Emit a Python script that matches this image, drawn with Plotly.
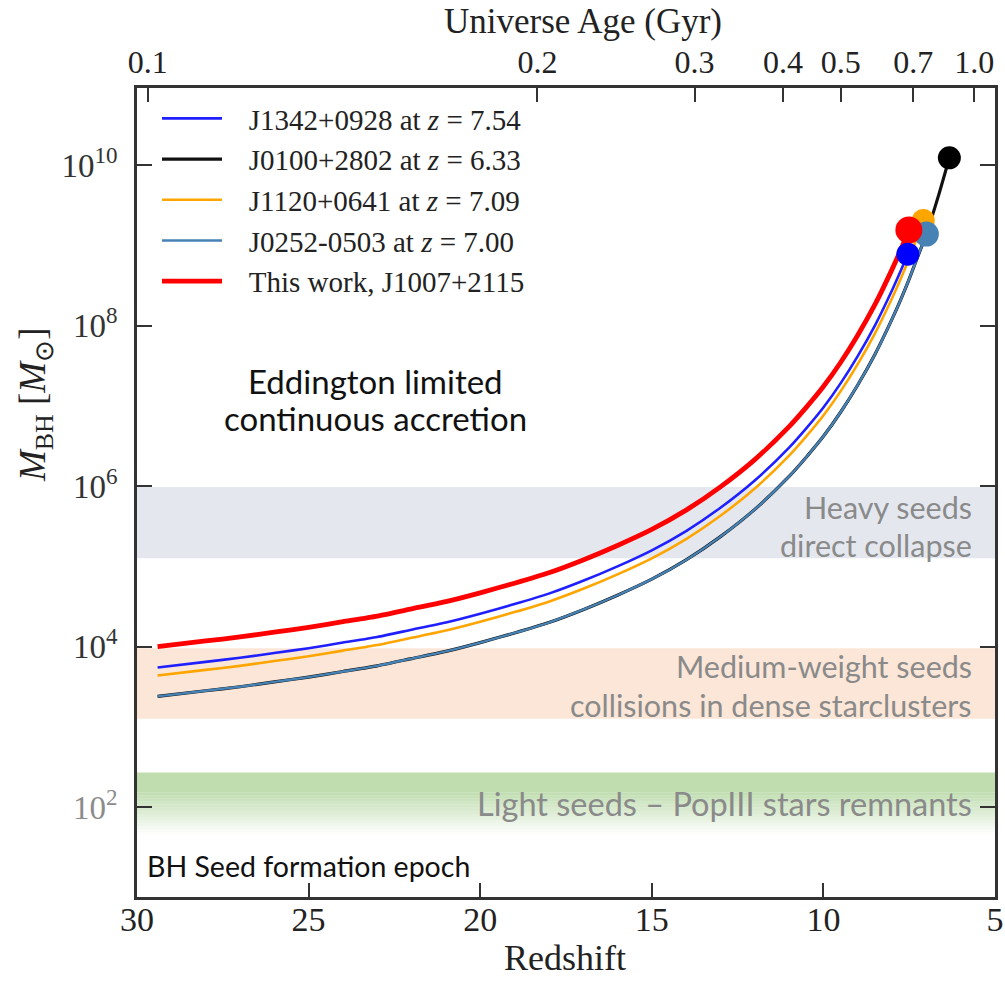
import math
import plotly.graph_objects as go

# ---- growth tracks: redshift vs log10(M_BH / M_sun) ----
z_common = [29.4, 28, 27, 26, 25, 24, 23, 22, 21, 20, 19, 18, 17, 16, 15, 14, 13, 12,
            11, 10.5, 10, 9.5, 9, 8.5, 8, 7.75]

red_z = z_common + [7.51]
red_logm = [4.00, 4.07, 4.12, 4.18, 4.24, 4.31, 4.38, 4.47, 4.56, 4.67, 4.79, 4.92, 5.08,
            5.26, 5.46, 5.70, 5.99, 6.33, 6.74, 6.98, 7.24, 7.54, 7.88, 8.26, 8.70, 8.94,
            9.19]

blue_z = z_common + [7.54]
blue_logm = [3.74, 3.81, 3.86, 3.92, 3.98, 4.05, 4.12, 4.21, 4.30, 4.41, 4.53, 4.66, 4.82,
             5.00, 5.20, 5.44, 5.73, 6.07, 6.48, 6.72, 6.98, 7.28, 7.62, 8.00, 8.44, 8.68,
             8.89]

orange_z = z_common + [7.51, 7.25, 7.09]
orange_logm = [3.64, 3.71, 3.76, 3.82, 3.88, 3.95, 4.02, 4.11, 4.20, 4.31, 4.43, 4.56, 4.72,
               4.90, 5.10, 5.34, 5.63, 5.97, 6.38, 6.62, 6.88, 7.18, 7.52, 7.90, 8.34, 8.58,
               8.83, 9.12, 9.31]

steel_z = z_common + [7.51, 7.25, 7.00]
steel_logm = [3.38, 3.45, 3.50, 3.56, 3.62, 3.69, 3.76, 3.85, 3.94, 4.05, 4.17, 4.30, 4.46,
              4.64, 4.84, 5.08, 5.37, 5.71, 6.12, 6.36, 6.62, 6.92, 7.26, 7.64, 8.08, 8.32,
              8.57, 8.86, 9.14]

black_z = z_common + [7.51, 7.25, 7.00, 6.66, 6.33]
black_logm = [3.38, 3.45, 3.50, 3.56, 3.62, 3.69, 3.76, 3.85, 3.94, 4.05, 4.17, 4.30, 4.46,
              4.64, 4.84, 5.08, 5.37, 5.71, 6.12, 6.36, 6.62, 6.92, 7.26, 7.64, 8.08, 8.32,
              8.57, 8.86, 9.14, 9.60, 10.09]

# ---- observed quasars (end points of the tracks) ----
qso_names = ["J1342+0928", "J0100+2802", "J1120+0641", "J0252-0503", "J1007+2115"]
qso_z = [7.54, 6.33, 7.09, 7.00, 7.51]
qso_logm = [8.89, 10.09, 9.31, 9.14, 9.19]

# ---- seed mass bands: log10 mass limits ----
heavy_band = [5.10, 5.99]
medium_band = [3.10, 3.98]
light_band = [1.65, 2.43]

# ---- axis ticks ----
age_ticks = [0.1, 0.2, 0.3, 0.4, 0.5, 0.7, 1.0]
age_labels = ["0.1", "0.2", "0.3", "0.4", "0.5", "0.7", "1.0"]
z_ticks = [30, 25, 20, 15, 10, 5]
m_ticks = [2, 4, 6, 8, 10]

H0, OM = 70.0, 0.3
OL = 1.0 - OM


def age_to_z(t_gyr):
    """Redshift at a given cosmic age in a flat LCDM universe."""
    hubble_time = 977.8 / H0  # Gyr
    x = math.sinh(t_gyr * 1.5 * math.sqrt(OL) / hubble_time) / math.sqrt(OL / OM)
    return x ** (-2.0 / 3.0) - 1.0


def lin(v):
    return [10 ** a for a in v]


SERIF = "Liberation Serif, Times New Roman, serif"
SANS = "Lato, Open Sans, sans-serif"
NB = "\u00a0\u00a0\u00a0"

fig = go.Figure()

tracks = [
    (NB + "J1342+0928 at <i>z</i> = 7.54", blue_z, blue_logm, "#1f1fff", 2.6, 1),
    (NB + "J0100+2802 at <i>z</i> = 6.33", black_z, black_logm, "#111111", 3.2, 2),
    (NB + "J1120+0641 at <i>z</i> = 7.09", orange_z, orange_logm, "#ffa500", 2.6, 3),
    (NB + "J0252-0503 at <i>z</i> = 7.00", steel_z, steel_logm, "#4682b4", 2.4, 4),
    (NB + "This work, J1007+2115", red_z, red_logm, "#ff0000", 4.8, 5),
]
# black goes under steel blue so the lowest track shows a dark rim
draw_order = [1, 2, 3, 0, 4]
for i in draw_order:
    name, zz, lm, col, w, rank = tracks[i]
    fig.add_trace(go.Scatter(
        x=zz, y=lin(lm), mode="lines", name=name,
        line=dict(color=col, width=w, shape="spline", smoothing=0.6),
        legendrank=rank, legendgroup=str(rank),
    ))

# end-point markers
marker_style = {
    "J1120+0641": ("#ffa500", 23),
    "J0252-0503": ("#4682b4", 25),
    "J1007+2115": ("#ff0000", 27),
    "J1342+0928": ("#0000ff", 23),
    "J0100+2802": ("#000000", 23),
}
for nm in ["J1120+0641", "J0252-0503", "J1007+2115", "J1342+0928", "J0100+2802"]:
    k = qso_names.index(nm)
    col, sz = marker_style[nm]
    fig.add_trace(go.Scatter(
        x=[qso_z[k]], y=[10 ** qso_logm[k]], mode="markers", showlegend=False,
        marker=dict(color=col, size=sz, line=dict(width=0)),
    ))

# invisible trace that carries the top (age) axis
fig.add_trace(go.Scatter(x=[30, 5], y=[1e3, 1e3], xaxis="x2", mode="lines",
                         line=dict(width=0), showlegend=False, hoverinfo="skip"))

shapes = [
    dict(type="rect", xref="x domain", yref="y", x0=0, x1=1,
         y0=10 ** heavy_band[0], y1=10 ** heavy_band[1],
         fillcolor="#e4e8ee", line=dict(width=0), layer="below"),
    dict(type="rect", xref="x domain", yref="y", x0=0, x1=1,
         y0=10 ** medium_band[0], y1=10 ** medium_band[1],
         fillcolor="#fbe6d7", line=dict(width=0), layer="below"),
]
# light seed band: solid top fading to white at the bottom
lo, hi = light_band
solid_lo = hi - 0.25
shapes.append(dict(type="rect", xref="x domain", yref="y", x0=0, x1=1,
                   y0=10 ** solid_lo, y1=10 ** hi,
                   fillcolor="rgb(192,221,176)", line=dict(width=0), layer="below"))
n = 14
step = (solid_lo - lo) / n
for j in range(n):
    top = solid_lo - j * step
    bot = top - step
    op = 1.0 - (j + 0.5) / n
    shapes.append(dict(type="rect", xref="x domain", yref="y", x0=0, x1=1,
                       y0=10 ** bot, y1=10 ** top,
                       fillcolor=f"rgba(192,221,176,{op:.3f})", line=dict(width=0),
                       layer="below"))

W, H = 1005, 982
ML, MR, MT, MB = 137, 10, 88, 85
PW, PH = W - ML - MR, H - MT - MB


def px(x):
    return (x - ML) / PW


def py(y):
    return (H - MB - y) / PH


def label(text, x, y, size, color, family=SANS, xanchor="center", angle=0):
    return dict(text=text, x=px(x), y=py(y), xref="paper", yref="paper",
                showarrow=False, xanchor=xanchor, yanchor="middle", textangle=angle,
                font=dict(family=family, size=size, color=color))


GREY = "#8a8a8a"
INK = "#222222"
annotations = [
    label("Eddington limited", 375, 381, 33, "#111111"),
    label("continuous accretion", 375, 418, 33, "#111111"),
    label("Heavy seeds", 974, 507, 30.5, GREY, xanchor="right"),
    label("direct collapse", 974, 545, 30.5, GREY, xanchor="right"),
    label("Medium-weight seeds", 974, 666, 30.5, GREY, xanchor="right"),
    label("collisions in dense starclusters", 974, 705, 30.5, GREY, xanchor="right"),
    label("Light seeds \u2013 PopIII stars remnants", 974, 803, 32.5, GREY, xanchor="right"),
    label("BH Seed formation epoch", 145, 866, 28.5, "#111111", xanchor="left"),
    label("Universe Age (Gyr)", 583, 22, 35, INK, family=SERIF),
    label("Redshift", 565, 958, 36, INK, family=SERIF),
    label("<i>M</i><sub>BH</sub> [<i>M</i><sub>\u2299</sub>]", 35, 405, 37, INK,
          family=SERIF, angle=-90),
]

y_ticktext = []
for p in m_ticks:
    lab = f"10<sup>{p}</sup>"
    if p == 2:
        lab = f"<span style='color:#8c8c8c'>{lab}</span>"
    y_ticktext.append(lab)

AXC = "#333333"
fig.update_layout(
    width=W, height=H,
    margin=dict(l=ML, r=MR, t=MT, b=MB, pad=0, autoexpand=False),
    paper_bgcolor="white", plot_bgcolor="white",
    showlegend=True,
    legend=dict(x=px(157), y=py(93), xanchor="left", yanchor="top",
                bgcolor="rgba(0,0,0,0)", borderwidth=0,
                font=dict(family=SERIF, size=29, color=INK),
                itemwidth=60, tracegroupgap=0),
    xaxis=dict(range=[30, 5], tickvals=z_ticks, ticktext=[str(v) for v in z_ticks],
               ticks="inside", ticklen=14, tickwidth=2, tickcolor=AXC,
               showline=True, linecolor=AXC, linewidth=2.5, mirror=True,
               showgrid=False, zeroline=False, ticklabelstandoff=-10, automargin=False,
               tickfont=dict(family=SERIF, size=34, color=INK)),
    xaxis2=dict(range=[30, 5], overlaying="x", side="top",
                tickvals=[age_to_z(a) for a in age_ticks], ticktext=age_labels,
                ticks="inside", ticklen=14, tickwidth=2, tickcolor=AXC,
                showline=False, showgrid=False, zeroline=False, ticklabelstandoff=8,
                automargin=False,
                tickfont=dict(family=SERIF, size=32, color=INK)),
    yaxis=dict(type="log", range=[0.88, 10.96],
               tickvals=[10 ** p for p in m_ticks], ticktext=y_ticktext,
               ticks="inside", ticklen=15, tickwidth=2, tickcolor=AXC,
               showline=True, linecolor=AXC, linewidth=2.5, mirror="ticks",
               showgrid=False, zeroline=False, ticklabelstandoff=10, automargin=False,
               tickfont=dict(family=SERIF, size=33, color="#333333")),
    shapes=shapes,
    annotations=annotations,
)

fig.write_html("out.html")
